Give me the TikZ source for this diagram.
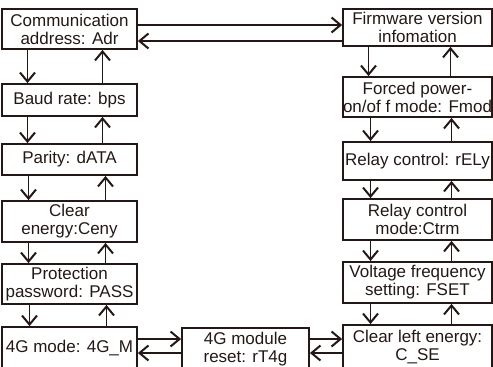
\documentclass[tikz,border=0pt]{standalone}
\usepackage{fontspec}
\setmainfont{Liberation Sans}
\usetikzlibrary{arrows.meta}
\definecolor{ink}{HTML}{231815}

\begin{document}
\begin{tikzpicture}[
  x=1pt, y=-1pt,
  menu/.style={rectangle, draw=ink, text=ink, line width=1.8pt, inner sep=0pt, align=center, font=\fontsize{17}{18}\selectfont},
  lcol/.style={menu, minimum width=135pt},
  rcol/.style={menu, minimum width=149pt},
  flow/.style={draw=ink, line width=1.8pt, -{Straight Barb[length=9pt, width=15pt, line width=2pt]}}
]
\useasboundingbox (0,0) rectangle (493,367);

% Left column
\node[lcol, minimum height=40pt] (adr)  at (69.5,29)    {Communication\\address: Adr};
\node[lcol, minimum height=32pt] (bps)  at (69.5,100)   {Baud rate: bps};
\node[lcol, minimum height=31pt] (data) at (69.5,159.5) {Parity: dATA};
\node[lcol, minimum height=41pt] (ceny) at (69.5,221.5) {Clear\\energy:Ceny};
\node[lcol, minimum height=40pt] (pass) at (69.5,284)   {Protection\\password: PASS};
\node[lcol, minimum height=43pt] (mode) at (69.5,348.5) {4G mode: 4G\_M};

% Right column
\node[rcol, minimum height=37pt] (fw)   at (417.5,27.5)  {Firmware version\\infomation};
\node[rcol, minimum height=40pt] (fmod) at (417.5,97)    {Forced power-\\on/of f mode: Fmod};
\node[rcol, minimum height=38pt] (rely) at (417.5,161)   {Relay control: rELy};
\node[rcol, minimum height=41pt] (ctrm) at (417.5,219.5) {Relay control\\mode:Ctrm};
\node[rcol, minimum height=41pt] (fset) at (417.5,282.5) {Voltage frequency\\setting: FSET};
\node[rcol, minimum height=45pt] (cse)  at (417.5,347.5) {Clear left energy:\\C\_SE};

% Bottom middle
\node[menu, minimum width=127pt, minimum height=42pt] (rt4g) at (245.5,349) {4G module\\reset: rT4g};

% Left column, down and up
\draw[flow] ([xshift=-42pt]adr.south)  -- ([xshift=-42pt]bps.north);
\draw[flow] ([xshift=33pt]bps.north)   -- ([xshift=33pt]adr.south);
\draw[flow] ([xshift=-42pt]bps.south)  -- ([xshift=-42pt]data.north);
\draw[flow] ([xshift=33pt]data.north)  -- ([xshift=33pt]bps.south);
\draw[flow] ([xshift=-41pt]data.south) -- ([xshift=-41pt]ceny.north);
\draw[flow] ([xshift=36pt]ceny.north)  -- ([xshift=36pt]data.south);
\draw[flow] ([xshift=-41pt]ceny.south) -- ([xshift=-41pt]pass.north);
\draw[flow] ([xshift=36pt]pass.north)  -- ([xshift=36pt]ceny.south);
\draw[flow] ([xshift=-40pt]pass.south) -- ([xshift=-40pt]mode.north);
\draw[flow] ([xshift=37pt]mode.north)  -- ([xshift=37pt]pass.south);

% Right column, down and up
\draw[flow] ([xshift=-49pt]fw.south)   -- ([xshift=-49pt]fmod.north);
\draw[flow] ([xshift=33pt]fmod.north)  -- ([xshift=33pt]fw.south);
\draw[flow] ([xshift=-47pt]fmod.south) -- ([xshift=-47pt]rely.north);
\draw[flow] ([xshift=34pt]rely.north)  -- ([xshift=34pt]fmod.south);
\draw[flow] ([xshift=-47pt]rely.south) -- ([xshift=-47pt]ctrm.north);
\draw[flow] ([xshift=34pt]ctrm.north)  -- ([xshift=34pt]rely.south);
\draw[flow] ([xshift=-47pt]ctrm.south) -- ([xshift=-47pt]fset.north);
\draw[flow] ([xshift=34pt]fset.north)  -- ([xshift=34pt]ctrm.south);
\draw[flow] ([xshift=-47pt]fset.south) -- ([xshift=-47pt]cse.north);
\draw[flow] ([xshift=34pt]cse.north)   -- ([xshift=34pt]fset.south);

% Across the top
\draw[flow] ([yshift=4pt]adr.east) -- ([yshift=4pt]adr.east -| fw.west);
\draw[flow] ([yshift=-12pt]adr.east -| fw.west) -- ([yshift=-12pt]adr.east);

% Across the bottom
\draw[flow] ([yshift=9.5pt]mode.east) -- ([yshift=9.5pt]mode.east -| rt4g.west);
\draw[flow] ([yshift=-4.5pt]mode.east -| rt4g.west) -- ([yshift=-4.5pt]mode.east);
\draw[flow] ([yshift=9.5pt]mode.east -| rt4g.east) -- ([yshift=9.5pt]mode.east -| cse.west);
\draw[flow] ([yshift=-4.5pt]mode.east -| cse.west) -- ([yshift=-4.5pt]mode.east -| rt4g.east);

\end{tikzpicture}
\end{document}
